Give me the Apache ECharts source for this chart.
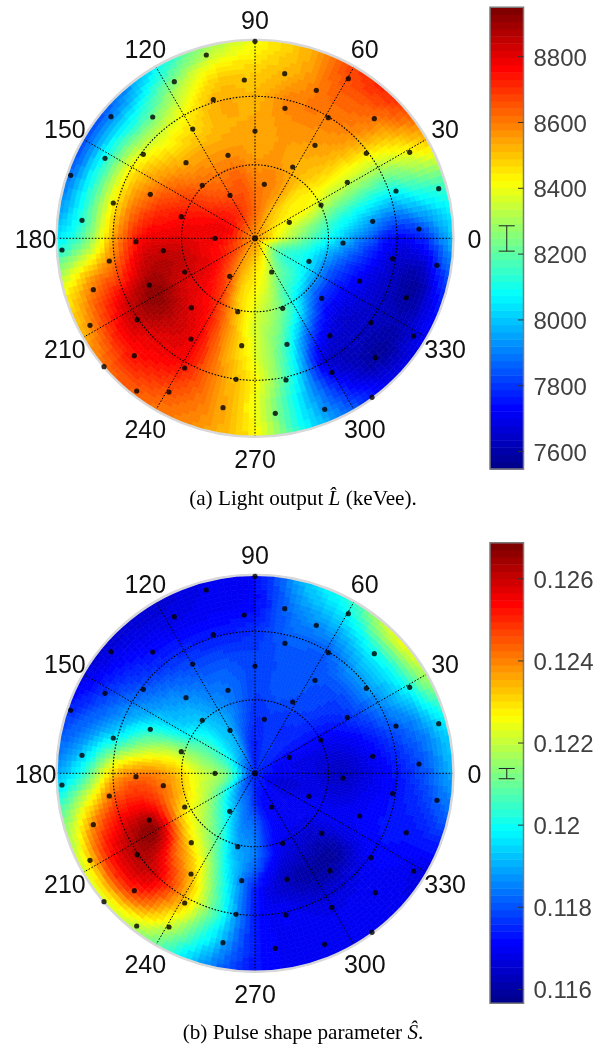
<!DOCTYPE html>
<html><head><meta charset="utf-8">
<style>html,body{margin:0;padding:0;background:#fff}#c{width:609px;height:1048px}</style>
<script src="https://cdn.jsdelivr.net/npm/echarts@6/dist/echarts.min.js"></script>
</head><body><div id="c"></div>
<script>
// sampling rings (radial units) and spokes (degrees) at which the surfaces were read
const radii = [28, 57, 85, 114, 142, 170, 198.5];
const spokes = [0,15,30,45,60,75,90,105,120,135,150,165,180,195,210,225,240,255,270,285,300,315,330,345];
// measured points (radial units)
const dotX = [0,-48.7,-10.7,-80.7,-41.7,-144,-102.3,-62.3,0,-27,-111.7,-150,-69,-184.3,-52.7,-104.7,-25,-141.7,-73.7,-173,-40,0,
  -119,-193,-91.7,-145.7,-70.3,-25.3,-105.7,-161.7,-63.7,-17.3,-117.7,-165,-64,-13.3,-120.7,-151,-70.3,-19,-118.3,-86,-32,-57.3,
  29.7,93.3,61.3,30,73.3,119.3,60,111.3,154.7,37.7,9.3,92.3,141,183.7,66,34.3,117.7,164,
  88,137.7,182,54,16.7,104.7,66.7,151.3,27.7,116,75,158.7,32,120.3,77,31,117,69.7,20.3];
const dotY = [197,183.3,158.3,156.6,138.6,121.6,121.3,109.3,107.3,83,84,80,75.6,63,53,44,43,35.3,21.6,18,0,0,
  -3.4,-11.7,-12.4,-22.7,-33.7,-38,-46.7,-51.4,-69.4,-73.4,-81.4,-87,-100.7,-107.4,-117.4,-128.4,-129.7,-141,-152.7,-153.7,-169.4,-192,
  164.6,159.6,148,130,120.6,119.6,93,85,86,71.3,54,56,47.3,49.6,33.3,16,17,9.3,
  -4.7,-20.4,-27,-23,-33.7,-42.7,-60,-59.4,-70,-84.4,-97.4,-97.7,-106,-119.4,-134,-141.7,-159,-171,-175];

// (a) Light output: centre value, then one row per spoke, one column per ring
const lightCentre = 8560;
const lightGrid = [
 [8360,8180,8020,7860,7730,7790,7990],
 [8400,8280,8150,8060,8000,8090,8150],
 [8440,8420,8350,8320,8320,8400,8500],
 [8480,8450,8480,8510,8560,8610,8700],
 [8520,8540,8530,8560,8600,8640,8680],
 [8580,8590,8560,8560,8590,8540,8520],
 [8620,8600,8550,8540,8520,8480,8410],
 [8660,8650,8580,8530,8530,8450,8280],
 [8700,8640,8580,8500,8420,8270,8080],
 [8730,8670,8600,8500,8350,8100,7880],
 [8750,8720,8670,8570,8420,8110,7830],
 [8770,8770,8740,8660,8470,8150,7900],
 [8750,8790,8800,8760,8540,8220,8050],
 [8720,8800,8860,8850,8680,8570,8400],
 [8700,8800,8830,8920,8850,8700,8530],
 [8650,8750,8800,8850,8800,8740,8640],
 [8570,8660,8730,8770,8760,8680,8610],
 [8520,8490,8540,8560,8570,8580,8560],
 [8470,8420,8370,8380,8420,8400,8430],
 [8430,8330,8260,8170,8120,8060,8080],
 [8340,8180,8070,7820,7680,7760,7850],
 [8230,8120,7850,7680,7640,7590,7700],
 [8180,8070,7820,7700,7640,7620,7720],
 [8230,8080,7880,7740,7640,7600,7800]
];
// (b) Pulse shape parameter
const shapeCentre = 0.1176;
const shapeGrid = [
 [.1170,.1168,.1164,.1168,.1173,.1180,.1190],
 [.1170,.1168,.1167,.1171,.1178,.1185,.1197],
 [.1172,.1172,.1172,.1177,.1186,.1197,.1218],
 [.1175,.1175,.1177,.1179,.1188,.1200,.1224],
 [.1176,.1176,.1179,.1180,.1182,.1192,.1204],
 [.1176,.1177,.1180,.1180,.1182,.1186,.1192],
 [.1174,.1176,.1178,.1178,.1176,.1172,.1172],
 [.1178,.1182,.1183,.1180,.1174,.1170,.1169],
 [.1188,.1190,.1186,.1181,.1175,.1169,.1166],
 [.1192,.1195,.1191,.1185,.1177,.1171,.1166],
 [.1198,.1205,.1197,.1192,.1184,.1176,.1168],
 [.1205,.1214,.1219,.1213,.1198,.1186,.1178],
 [.1210,.1222,.1235,.1240,.1232,.1205,.1190],
 [.1208,.1222,.1238,.1252,.1250,.1235,.1213],
 [.1198,.1218,.1232,.1265,.1262,.1250,.1222],
 [.1190,.1210,.1225,.1245,.1258,.1248,.1222],
 [.1185,.1200,.1213,.1228,.1235,.1225,.1210],
 [.1182,.1187,.1193,.1200,.1205,.1198,.1188],
 [.1176,.1183,.1184,.1175,.1174,.1174,.1173],
 [.1172,.1173,.1170,.1164,.1170,.1170,.1170],
 [.1171,.1170,.1166,.1160,.1166,.1170,.1170],
 [.1170,.1170,.1165,.1160,.1168,.1170,.1170],
 [.1168,.1170,.1170,.1170,.1172,.1171,.1168],
 [.1166,.1168,.1167,.1170,.1173,.1175,.1180]
];
const ringValues = [73.5, 142];
const angleLabels = [0,30,60,90,120,150,180,210,240,270,300,330];
const lightTicks = [7600,7800,8000,8200,8400,8600,8800];
const shapeTicks = [0.116,0.118,0.12,0.122,0.124,0.126];
const lightRange = [7547, 8950];
const shapeRange = [0.11566, 0.12688];
const lightErr = [8209, 8286];
const shapeErr = [0.12113, 0.12138];
const jetStops = [[0,0,143],[0,0,255],[0,127,255],[0,255,255],[127,255,127],[255,255,0],[255,127,0],[255,0,0],[128,0,0]];
const LEVELS = 64;

function levelColor(k){
  const t = k/(LEVELS-1)*(jetStops.length-1), a = Math.min(Math.floor(t), jetStops.length-2), f = t-a;
  const c = jetStops[a].map((v,n)=>Math.round(v+(jetStops[a+1][n]-v)*f));
  return `rgb(${c[0]},${c[1]},${c[2]})`;
}
function valueColor(v,range){
  const k = Math.max(0,Math.min(LEVELS-1,Math.floor((v-range[0])/(range[1]-range[0])*LEVELS)));
  return levelColor(k);
}
const cr=(a,b,c,d,t)=>.5*(2*b+(c-a)*t+(2*a-5*b+4*c-d)*t*t+(-a+3*b-3*c+d)*t*t*t);
const SUB_R = 6, SUB_A = 8;
function surfaceSeries(grid,centre,range,polarIndex){
  const data=[], n=spokes.length, last=radii.length-1;
  const at=(s,i)=>i<0?centre:grid[(s+n)%n][Math.min(i,last)];
  grid.forEach((row,s)=>row.forEach((v,i)=>data.push([radii[i],spokes[s],v,i,s])));
  return {
    type:'custom',coordinateSystem:'polar',polarIndex,silent:true,z:1,clip:false,
    encode:{radius:0,angle:1},data,
    renderItem(params,api){
      const i=api.value(3), s=api.value(4);
      const r0=i?radii[i-1]:0, r1=radii[i], a0=spokes[s], da=360/n;
      const children=[];
      for(let p=0;p<SUB_R;p++){
        const u=(p+.5)/SUB_R;
        const col4=[-1,0,1,2].map(o=>cr(at(s+o,i-2),at(s+o,i-1),at(s+o,i),at(s+o,i+1),u));
        const ra=r0+(r1-r0)*p/SUB_R, rb=r0+(r1-r0)*(p+1)/SUB_R;
        for(let q=0;q<SUB_A;q++){
          const w=(q+.5)/SUB_A, v=cr(col4[0],col4[1],col4[2],col4[3],w);
          const ta=a0+da*q/SUB_A, tb=a0+da*(q+1)/SUB_A;
          const col=valueColor(v,range);
          children.push({type:'polygon',shape:{points:[api.coord([ra,ta]),api.coord([rb,ta]),api.coord([rb,tb]),api.coord([ra,tb])]},
            style:{fill:col,stroke:col,lineWidth:.7}});
        }
      }
      return {type:'group',children};
    }
  };
}
function ringSeries(polarIndex){
  return {type:'custom',coordinateSystem:'polar',polarIndex,silent:true,z:6,encode:{radius:0,angle:1},
    data:ringValues.map(r=>[r,0]),
    renderItem(params,api){
      const c=api.coord([0,0]), e=api.coord([api.value(0),0]);
      return {type:'circle',shape:{cx:c[0],cy:c[1],r:Math.abs(e[0]-c[0])},style:{fill:'none',stroke:'#000',lineWidth:1.1,lineDash:[1.6,1.6]}};
    }};
}
function dotSeries(polarIndex){
  return {type:'scatter',coordinateSystem:'polar',polarIndex,silent:true,z:10,symbolSize:5.2,itemStyle:{color:'#000'},
    data:dotX.map((x,k)=>[Math.hypot(x,dotY[k]),(Math.atan2(dotY[k],x)*180/Math.PI+360)%360])};
}
function angleLabelSeries(polarIndex){
  return {type:'custom',coordinateSystem:'polar',polarIndex,silent:true,z:10,clip:false,encode:{radius:0,angle:1},
    data:angleLabels.map(a=>[219.5,a]),
    renderItem(params,api){
      const p=api.coord([api.value(0),api.value(1)]);
      return {type:'text',x:p[0],y:p[1]+3,style:{text:String(api.value(1)),align:'center',verticalAlign:'middle',
        font:'25px "Liberation Sans",Arial,sans-serif',fill:'#111'}};
    }};
}
function barSeries(range,idx){
  const levels=Array.from({length:LEVELS},(_,k)=>k);
  return {type:'custom',coordinateSystem:'cartesian2d',xAxisIndex:idx,yAxisIndex:idx,silent:true,z:1,
    encode:{x:[],y:[]},data:levels.map(k=>[k]),
    renderItem(params,api){
      const k=api.value(0), st=(range[1]-range[0])/LEVELS;
      const a=api.coord([0,range[0]+k*st]), b=api.coord([1,range[0]+(k+1)*st]);
      return {type:'rect',shape:{x:a[0],y:b[1],width:b[0]-a[0],height:a[1]-b[1]+.5},style:{fill:levelColor(k)}};
    }};
}
function frameSeries(range,idx){
  return {type:'custom',coordinateSystem:'cartesian2d',xAxisIndex:idx,yAxisIndex:idx,silent:true,z:8,
    data:[[0,range[0]]],
    renderItem(params,api){
      const a=api.coord([0,range[0]]), b=api.coord([1,range[1]]);
      return {type:'rect',shape:{x:a[0],y:b[1],width:b[0]-a[0],height:a[1]-b[1]},style:{fill:'none',stroke:'#7a7a7a',lineWidth:1.5}};
    }};
}
function tickSeries(ticks,idx){
  return {type:'custom',coordinateSystem:'cartesian2d',xAxisIndex:idx,yAxisIndex:idx,silent:true,z:9,clip:false,
    data:ticks.map(t=>[1,t]),
    renderItem(params,api){
      const p=api.coord([api.value(0),api.value(1)]);
      return {type:'group',children:[
        {type:'line',shape:{x1:p[0]-5.5,y1:p[1],x2:p[0],y2:p[1]},style:{stroke:'#333',lineWidth:1}},
        {type:'text',x:p[0]+10,y:p[1]+2.5,style:{text:String(api.value(1)),align:'left',verticalAlign:'middle',
          font:'24px "Liberation Sans",Arial,sans-serif',fill:'#404040'}}
      ]};
    }};
}
function errSeries(err,idx){
  return {type:'custom',coordinateSystem:'cartesian2d',xAxisIndex:idx,yAxisIndex:idx,silent:true,z:9,
    data:[[0.5,err[0],err[1]]],
    renderItem(params,api){
      const lo=api.coord([api.value(0),api.value(1)]), hi=api.coord([api.value(0),api.value(2)]);
      const ln=(x1,y1,x2,y2)=>({type:'line',shape:{x1,y1,x2,y2},style:{stroke:'#222',lineWidth:1}});
      return {type:'group',children:[ln(lo[0],lo[1],hi[0],hi[1]),ln(lo[0]-8,lo[1],lo[0]+8,lo[1]),ln(lo[0]-8,hi[1],lo[0]+8,hi[1])]};
    }};
}
const SERIF='"Liberation Serif","Times New Roman",serif';
function angleAxis(polarIndex){
  return {polarIndex,type:'value',min:0,max:360,interval:30,startAngle:0,clockwise:false,z:5,
    axisLine:{show:true,lineStyle:{color:'#d8d8d8',width:2.5}},axisTick:{show:false},
    splitLine:{show:true,lineStyle:{color:'#000',width:1,type:[1.6,1.6]}},
    axisLabel:{show:false}};
}
function radiusAxis(polarIndex){
  return {polarIndex,type:'value',min:0,max:198.5,show:false,axisLine:{show:false},axisTick:{show:false},axisLabel:{show:false},splitLine:{show:false}};
}
function yAxis(range,idx){
  return {type:'value',gridIndex:idx,position:'right',min:range[0],max:range[1],
    axisLine:{show:false},splitLine:{show:false},axisTick:{show:false},axisLabel:{show:false}};
}
function xAxis(idx){return {type:'value',gridIndex:idx,min:0,max:1,show:false};}
const capStyle={fontFamily:SERIF,fontSize:21.2,fontWeight:'normal',color:'#000',
  rich:{i:{fontFamily:SERIF,fontSize:21.2,fontStyle:'italic',color:'#000'}}};
const chart=echarts.init(document.getElementById('c'),null,{renderer:'canvas'});
chart.setOption({
  animation:false,backgroundColor:'#fff',
  title:[
    {text:'(a) Light output {i|L\u0302} (keVee).',left:298,top:484,textAlign:'center',textStyle:capStyle},
    {text:'(b) Pulse shape parameter {i|S\u0302}.',left:298,top:1018,textAlign:'center',textStyle:capStyle}
  ],
  polar:[{center:[255,238.3],radius:198.5},{center:[255,773.3],radius:198.5}],
  angleAxis:[angleAxis(0),angleAxis(1)],
  radiusAxis:[radiusAxis(0),radiusAxis(1)],
  grid:[{left:490,width:33.5,top:7.3,height:461.7},{left:490,width:33.5,top:542.7,height:460.6}],
  xAxis:[xAxis(0),xAxis(1)],
  yAxis:[yAxis(lightRange,0),yAxis(shapeRange,1)],
  series:[
    surfaceSeries(lightGrid,lightCentre,lightRange,0),ringSeries(0),dotSeries(0),angleLabelSeries(0),
    surfaceSeries(shapeGrid,shapeCentre,shapeRange,1),ringSeries(1),dotSeries(1),angleLabelSeries(1),
    barSeries(lightRange,0),frameSeries(lightRange,0),tickSeries(lightTicks,0),errSeries(lightErr,0),
    barSeries(shapeRange,1),frameSeries(shapeRange,1),tickSeries(shapeTicks,1),errSeries(shapeErr,1)
  ]
});
</script></body></html>
